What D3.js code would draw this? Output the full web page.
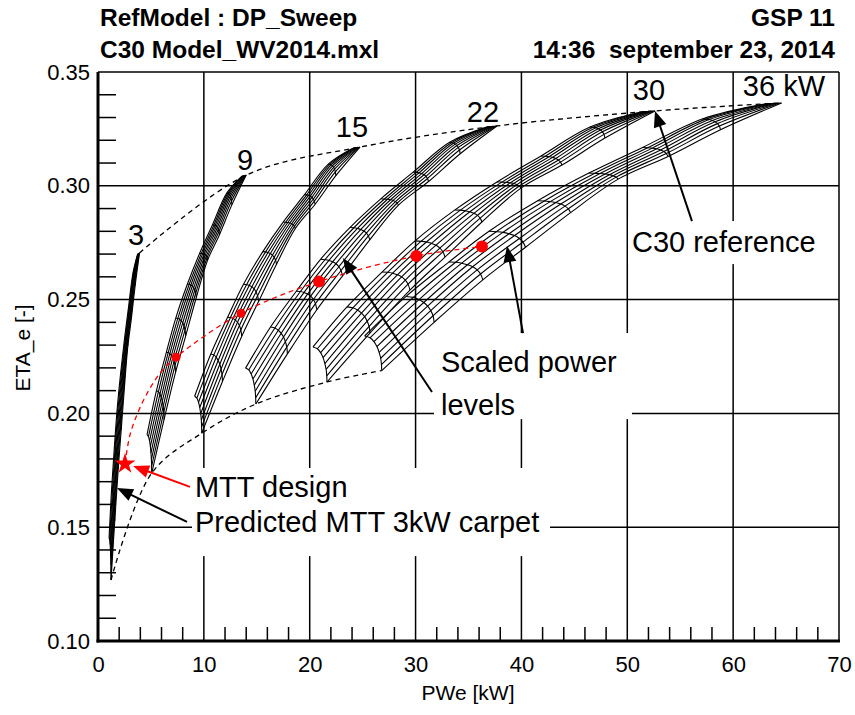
<!DOCTYPE html>
<html>
<head>
<meta charset="utf-8">
<script src="https://cdn.jsdelivr.net/npm/d3@7"></script>
<style>
  body { margin: 0; background: #fff; }
  svg { display: block; }
  text { font-family: "Liberation Sans", Arial, Helvetica, sans-serif; fill: #000; }
</style>
</head>
<body>
<svg id="chart" width="855" height="715"></svg>
<script>
// ---- Scaled power levels (kW) and the corner points of each carpet ----
const levelKW    = [3, 9, 15, 22, 30, 36];
const levelLabel = ["3", "9", "15", "22", "30", "36 kW"];
const bottomPWe  = [1.23, 5.07, 9.80, 14.91, 21.63, 26.80];
const bottomEta  = [0.1268, 0.1737, 0.1913, 0.2041, 0.2138, 0.2188];
const topPWe     = [3.92, 14.01, 24.75, 37.69, 52.62, 64.57];
const topEta     = [0.2705, 0.3047, 0.3170, 0.3263, 0.3329, 0.3364];
// relative spread of the speed lines across each carpet (reference = 1)
const carpetSpread = [1.6, 1.15, 1.05, 1.0, 1.0, 1.0];

// ---- C30 reference carpet: rows = cross lines (bottom to top), columns = speed lines ----
const refPWe = [
  [20.31, 20.72, 21.03, 21.26, 21.43, 21.55, 21.61, 21.63],
  [23.52, 24.08, 24.52, 24.89, 25.19, 25.43, 25.61, 25.69],
  [26.83, 27.36, 27.83, 28.28, 28.68, 29.03, 29.29, 29.47],
  [29.95, 30.51, 31.02, 31.50, 31.93, 32.30, 32.58, 32.78],
  [33.72, 34.23, 34.69, 35.13, 35.51, 35.84, 36.10, 36.27],
  [37.69, 38.15, 38.55, 38.94, 39.28, 39.57, 39.80, 39.96],
  [41.85, 42.25, 42.60, 42.94, 43.24, 43.50, 43.69, 43.83],
  [46.48, 46.76, 47.02, 47.26, 47.47, 47.65, 47.80, 47.89],
  [51.29, 51.48, 51.67, 51.86, 52.05, 52.24, 52.43, 52.62]
];
const refEta = [
  [0.2292, 0.2284, 0.2267, 0.2245, 0.2219, 0.2193, 0.2165, 0.2138],
  [0.2468, 0.2464, 0.2454, 0.2441, 0.2425, 0.2405, 0.2382, 0.2353],
  [0.2621, 0.2620, 0.2616, 0.2609, 0.2600, 0.2586, 0.2568, 0.2542],
  [0.2758, 0.2756, 0.2753, 0.2747, 0.2739, 0.2726, 0.2710, 0.2687],
  [0.2894, 0.2893, 0.2890, 0.2886, 0.2879, 0.2870, 0.2858, 0.2841],
  [0.3017, 0.3016, 0.3015, 0.3013, 0.3010, 0.3005, 0.2999, 0.2990],
  [0.3131, 0.3130, 0.3128, 0.3125, 0.3120, 0.3113, 0.3104, 0.3091],
  [0.3258, 0.3257, 0.3255, 0.3251, 0.3245, 0.3237, 0.3226, 0.3210],
  [0.3324, 0.3325, 0.3326, 0.3326, 0.3327, 0.3327, 0.3328, 0.3329]
];

// ---- Design points of the scaled engines and the MTT design ----
const designPWe = [7.37, 13.51, 20.88, 30.07, 36.27];
const designEta = [0.2247, 0.2440, 0.2579, 0.2692, 0.2733];
const trendPWe  = [2.55, 3.02, 3.87, 4.82, 5.95, 7.37, 13.51, 20.88, 30.07, 36.27];
const trendEta  = [0.1778, 0.1905, 0.2015, 0.2103, 0.2182, 0.2247, 0.2440, 0.2579, 0.2692, 0.2733];
const mttPWe = [2.55];
const mttEta = [0.1778];

// ---- Axes ----
const xTicks = [0, 10, 20, 30, 40, 50, 60, 70];
const yTicks = [0.10, 0.15, 0.20, 0.25, 0.30, 0.35];

const svg = d3.select("#chart");
const x = d3.scaleLinear().domain([0, 70]).range([98, 839]);
const y = d3.scaleLinear().domain([0.10, 0.35]).range([641, 72]);

// grid lines
const grid = svg.append("g").attr("stroke", "#000").attr("stroke-width", 1.5);
xTicks.slice(1, -1).forEach(v => grid.append("line")
  .attr("x1", x(v)).attr("x2", x(v)).attr("y1", y(0.10)).attr("y2", y(0.35)));
yTicks.slice(1, -1).forEach(v => grid.append("line")
  .attr("x1", x(0)).attr("x2", x(70)).attr("y1", y(v)).attr("y2", y(v)));
// frame: thin top/right, heavy left/bottom
grid.append("line").attr("x1", x(0)).attr("x2", x(70)).attr("y1", y(0.35)).attr("y2", y(0.35));
grid.append("line").attr("x1", x(70)).attr("x2", x(70)).attr("y1", y(0.10)).attr("y2", y(0.35));

// minor ticks (inside the frame)
const minor = svg.append("g").attr("stroke", "#000").attr("stroke-width", 1.5);
d3.range(11, 35).filter(k => k % 5 !== 0).forEach(k => {
  const v = k / 100;
  minor.append("line").attr("x1", x(0)).attr("x2", x(0) + 18).attr("y1", y(v)).attr("y2", y(v));
});
d3.range(2, 70, 2).filter(v => v % 10 !== 0).forEach(v => {
  minor.append("line").attr("x1", x(v)).attr("x2", x(v)).attr("y1", y(0.10)).attr("y2", y(0.10) - 14);
});

// carpets: the reference carpet mapped onto each scaled level's corner points
const nRow = refPWe.length, nCol = refPWe[0].length;
const refBot = [refPWe[0][nCol - 1], refEta[0][nCol - 1]];
const refTop = [refPWe[nRow - 1][nCol - 1], refEta[nRow - 1][nCol - 1]];
function carpetGrid(k) {
  const sx = (topPWe[k] - bottomPWe[k]) / (refTop[0] - refBot[0]);
  const sy = (topEta[k] - bottomEta[k]) / (refTop[1] - refBot[1]);
  return refPWe.map((row, j) => {
    const edge = bottomPWe[k] + (row[nCol - 1] - refBot[0]) * sx;
    return row.map((p, i) => [
      edge + (p - row[nCol - 1]) * sx * carpetSpread[k],
      bottomEta[k] + (refEta[j][i] - refBot[1]) * sy
    ]);
  });
}
const curve = d3.line().x(d => x(d[0])).y(d => y(d[1])).curve(d3.curveCatmullRom.alpha(0.5));
const carpets = svg.append("g").attr("fill", "none").attr("stroke", "#000").attr("stroke-width", 1.1);
levelKW.forEach((kw, k) => {
  const g = carpetGrid(k);
  const c = carpets.append("g");
  for (let i = 0; i < nCol; i++) c.append("path").attr("d", curve(g.map(r => r[i])));
  for (let j = 0; j < nRow; j++) c.append("path").attr("d", curve(g[j]));
});

// envelope lines through bottom and top corners
const env = svg.append("g").attr("fill", "none").attr("stroke", "#000")
  .attr("stroke-width", 1.3).attr("stroke-dasharray", "5,4");
env.append("path").attr("d", curve(bottomPWe.map((p, k) => [p, bottomEta[k]])));
env.append("path").attr("d", curve(topPWe.map((p, k) => [p, topEta[k]])));

// scaled design point trend
svg.append("path").attr("d", curve(trendPWe.map((p, k) => [p, trendEta[k]])))
  .attr("fill", "none").attr("stroke", "#ff0000").attr("stroke-width", 1.3)
  .attr("stroke-dasharray", "5,4");
svg.append("g").selectAll("circle").data(designPWe).join("circle")
  .attr("cx", d => x(d)).attr("cy", (d, i) => y(designEta[i]))
  .attr("r", (d, i) => i < 2 ? 4.5 : 6).attr("fill", "#ff0000");
svg.append("g").selectAll("path").data(mttPWe).join("path")
  .attr("d", d3.symbol(d3.symbolStar, 135)())
  .attr("transform", (d, i) => `translate(${x(d)},${y(mttEta[i])})`)
  .attr("fill", "#ff0000");

// heavy left and bottom axis lines
svg.append("line").attr("x1", x(0)).attr("x2", x(0)).attr("y1", y(0.10) + 1.5).attr("y2", y(0.35))
  .attr("stroke", "#000").attr("stroke-width", 3);
svg.append("line").attr("x1", x(0) - 1.5).attr("x2", x(70) + 1).attr("y1", y(0.10)).attr("y2", y(0.10))
  .attr("stroke", "#000").attr("stroke-width", 3);

// level labels
const levelLabelPos = [[3.59, 0.2740], [13.89, 0.3069], [23.99, 0.3214], [36.37, 0.3280], [52.05, 0.3377], [64.80, 0.3395]];
svg.append("g").selectAll("text").data(levelLabel).join("text")
  .attr("x", (d, i) => x(levelLabelPos[i][0])).attr("y", (d, i) => y(levelLabelPos[i][1]))
  .attr("text-anchor", "middle").attr("font-size", 29).text(d => d);

// annotation boxes, texts and arrows
const notes = svg.append("g");
function box(p0, p1, e0, e1) {
  notes.append("rect").attr("x", x(p0)).attr("y", y(e0)).attr("width", x(p1) - x(p0))
    .attr("height", y(e1) - y(e0)).attr("fill", "#fff");
}
function label(p, e, t, color) {
  notes.append("text").attr("x", x(p)).attr("y", y(e)).attr("font-size", 29)
    .style("fill", color || "#000").text(t);
}
function arrow(from, to, color) {
  const x1 = x(from[0]), y1 = y(from[1]), x2 = x(to[0]), y2 = y(to[1]);
  const len = Math.hypot(x2 - x1, y2 - y1), ux = (x2 - x1) / len, uy = (y2 - y1) / len;
  const hl = 16, hw = 6.5, bx = x2 - ux * hl, by = y2 - uy * hl;
  notes.append("line").attr("x1", x1).attr("y1", y1).attr("x2", bx + ux * 2).attr("y2", by + uy * 2)
    .attr("stroke", color).attr("stroke-width", 2);
  notes.append("path").attr("d", `M${x2},${y2}L${bx - uy * hw},${by + ux * hw}L${bx + uy * hw},${by - ux * hw}Z`)
    .attr("fill", color);
}
box(50.07, 69.15, 0.2845, 0.2656);
label(50.44, 0.2710, "C30 reference");
arrow([56.11, 0.2845], [52.62, 0.3329], "#000");

box(31.74, 50.44, 0.2353, 0.1975);
label(32.40, 0.2182, "Scaled power");
label(32.40, 0.1993, "levels");
arrow([40.15, 0.2353], [38.64, 0.2735], "#000");
arrow([31.55, 0.2094], [23.14, 0.2683], "#000");

box(8.88, 42.70, 0.1760, 0.1373);
label(9.16, 0.1633, "MTT design");
label(9.16, 0.1479, "Predicted MTT 3kW carpet");
arrow([8.69, 0.1677], [3.31, 0.1769], "#ff0000");
arrow([8.41, 0.1523], [1.79, 0.1672], "#000");

// tick labels
const xAxis = svg.append("g").attr("transform", `translate(0,${y(0.10)})`)
  .call(d3.axisBottom(x).tickValues(xTicks).tickSize(0).tickPadding(15).tickFormat(d3.format("d")));
const yAxis = svg.append("g").attr("transform", `translate(${x(0)},0)`)
  .call(d3.axisLeft(y).tickValues(yTicks).tickSize(0).tickPadding(8).tickFormat(d3.format(".2f")));
[xAxis, yAxis].forEach(a => {
  a.select(".domain").remove();
  a.selectAll("text").attr("font-size", 22).attr("font-family", null);
});

// axis titles
svg.append("text").attr("x", 468).attr("y", 700).attr("text-anchor", "middle")
  .attr("font-size", 21).text("PWe [kW]");
svg.append("text").attr("transform", "translate(30,348) rotate(-90)").attr("text-anchor", "middle")
  .attr("font-size", 21).text("ETA_e [-]");

// header
const head = svg.append("g").attr("font-weight", "bold").attr("font-size", 24.5);
head.append("text").attr("x", 100).attr("y", 26).text("RefModel : DP_Sweep");
head.append("text").attr("x", 100).attr("y", 58).text("C30 Model_WV2014.mxl");
head.append("text").attr("x", 835).attr("y", 26).attr("text-anchor", "end").text("GSP 11");
head.append("text").attr("x", 835).attr("y", 58).attr("text-anchor", "end")
  .style("white-space", "pre").text("14:36  september 23, 2014");
</script>
</body>
</html>
